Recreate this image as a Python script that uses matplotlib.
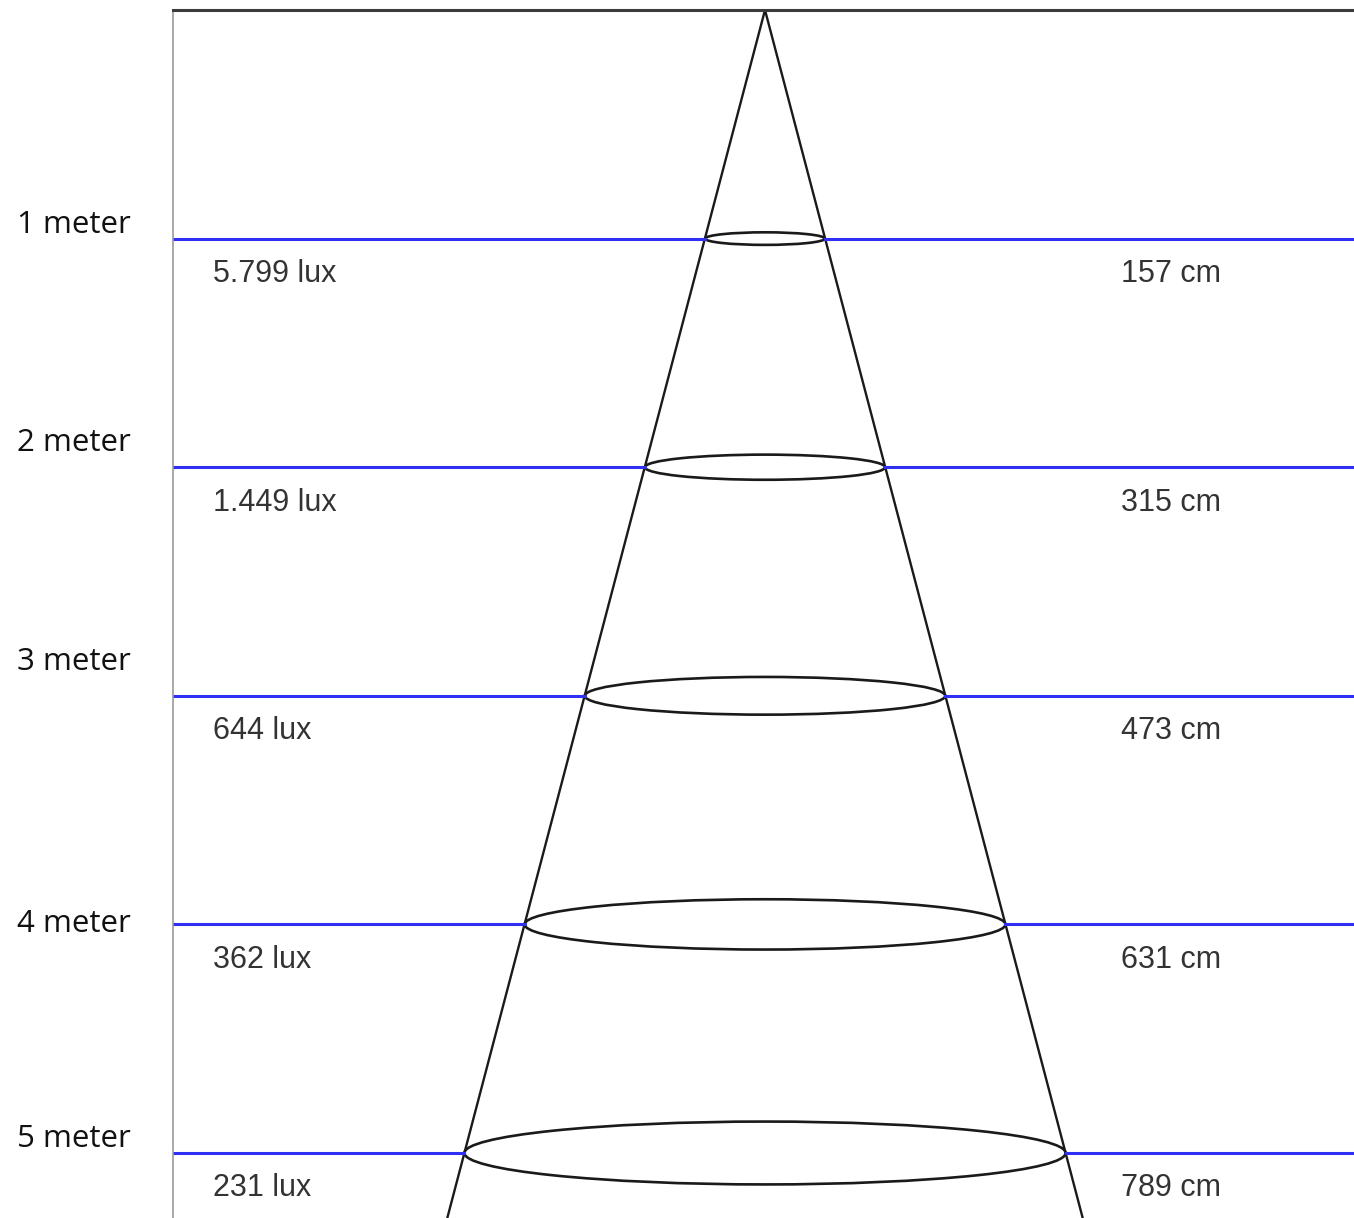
import numpy as np
import matplotlib.pyplot as plt
from matplotlib.patches import Ellipse

# beam data: distance from lamp, illuminance, beam diameter
distance_m = [1, 2, 3, 4, 5]
lux_labels = ["5.799 lux", "1.449 lux", "644 lux", "362 lux", "231 lux"]
diameter_cm = [157, 315, 473, 631, 789]
meter_labels = ["1 meter", "2 meter", "3 meter", "4 meter", "5 meter"]

# layout (pixels of a 1354x1218 canvas)
W, H = 1354, 1218
left_px, top_px = 173, 10
px_per_cm = 0.762
px_per_m = 228.6
apex_px = 765

xmin = (left_px - apex_px) / px_per_cm
xmax = (W - apex_px) / px_per_cm
ymax = (H - top_px) / px_per_m

fig = plt.figure(figsize=(W / 100, H / 100), dpi=100)
ax = fig.add_axes([left_px / W, 0, 1 - left_px / W, 1 - top_px / H])
ax.set_xlim(xmin, xmax)
ax.set_ylim(ymax, 0)
ax.set_xticks([])
ax.set_yticks([])
for s in ["right", "bottom"]:
    ax.spines[s].set_visible(False)
ax.spines["left"].set_color("#9a9a9a")
ax.spines["left"].set_linewidth(1.2)
ax.spines["top"].set_color("#3c3c3c")
ax.spines["top"].set_linewidth(2.2)

# cone edges, radius grows linearly with distance
r_per_m = diameter_cm[-1] / 2 / distance_m[-1]
depth = np.array([0, ymax])
ax.plot(r_per_m * depth, depth, color="#1a1a1a", lw=1.7)
ax.plot(-r_per_m * depth, depth, color="#1a1a1a", lw=1.7)

ytr = ax.get_yaxis_transform()
label_dy = [-0.06, -0.105, -0.15, 0.0, -0.06]
text_dy = 0.155

for d, lux, dia, lab, dy in zip(distance_m, lux_labels, diameter_cm, meter_labels, label_dy):
    r = dia / 2
    ax.plot([xmin, -r], [d, d], color="#3030f5", lw=2.2)
    ax.plot([r, xmax], [d, d], color="#3030f5", lw=2.2)
    ax.add_patch(Ellipse((0, d), width=dia, height=2 * 0.0275 * d,
                         fill=False, ec="#1a1a1a", lw=1.9))
    ax.text(-0.1321, d + dy, lab, transform=ytr, ha="left", va="center",
            fontsize=22.5, family="Open Sans", color="#111111", clip_on=False)
    ax.text((213 - left_px) / (W - left_px), d + text_dy, lux, transform=ytr,
            ha="left", va="center", fontsize=22, family="Liberation Sans",
            color="#333333")
    ax.text((1121 - left_px) / (W - left_px), d + text_dy, f"{dia} cm", transform=ytr,
            ha="left", va="center", fontsize=22, family="Liberation Sans",
            color="#333333")

fig.savefig("out.png", dpi=100)
